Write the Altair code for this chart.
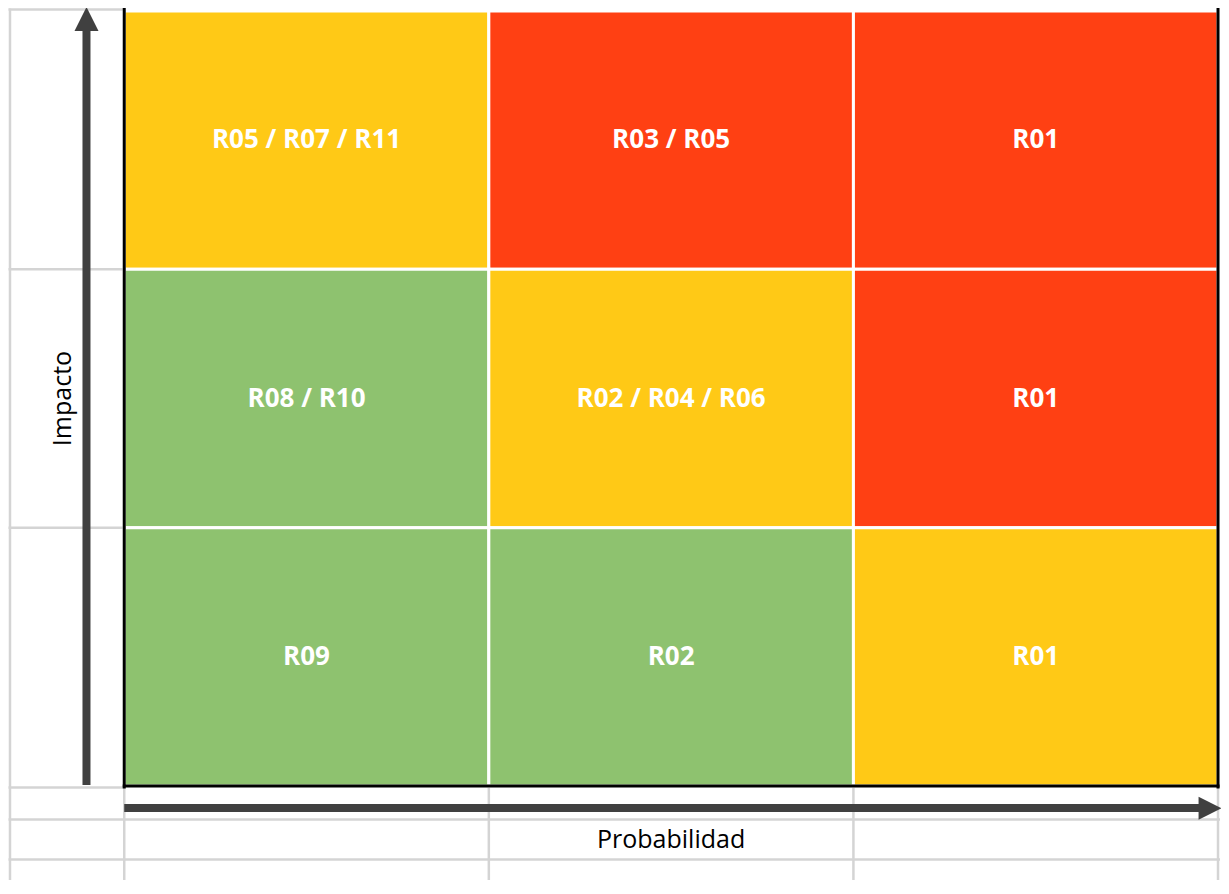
import altair as alt
import pandas as pd

# ---- data ----
probabilidad = [1, 2, 3, 1, 2, 3, 1, 2, 3]
impacto = [3, 3, 3, 2, 2, 2, 1, 1, 1]
riesgos = ["R05 / R07 / R11", "R03 / R05", "R01",
           "R08 / R10", "R02 / R04 / R06", "R01",
           "R09", "R02", "R01"]
nivel = ["Medio", "Alto", "Alto",
         "Bajo", "Medio", "Alto",
         "Bajo", "Bajo", "Medio"]
niveles = ["Bajo", "Medio", "Alto"]
colores = ["#8EC26F", "#FFC916", "#FF4013"]

titulo_x = "Probabilidad"
titulo_y = "Impacto"

# ---- layout (reference page pixels -> matrix units) ----
W, H = 1213, 872
REF_RIGHT = 1229           # right edge of the reference content
SX = W / (REF_RIGHT - 8)   # horizontal squeeze so everything fits
MX0, MX3 = 125, 1226       # matrix left/right on reference page
MY3, MY0 = 11, 786         # matrix top/bottom on reference page
ux = (MX3 - MX0) / 3
uy = (MY0 - MY3) / 3


def gx(px):
    return (px - MX0) / ux


def gy(py):
    return (MY0 - py) / uy


x_scale = alt.Scale(domain=[gx(8), gx(REF_RIGHT)], nice=False, zero=False)
y_scale = alt.Scale(domain=[gy(8 + H), gy(8)], nice=False, zero=False)

cells = pd.DataFrame({
    "prob": probabilidad, "imp": impacto, "riesgo": riesgos, "nivel": nivel,
})
cells["x"] = cells["prob"] - 1
cells["x2"] = cells["prob"]
cells["y"] = cells["imp"] - 1
cells["y2"] = cells["imp"]
cells["cx"] = cells["prob"] - 0.5
cells["cy"] = cells["imp"] - 0.5

bottom_px = 8 + H
gray_segments = [
    (gx(10), gx(10), gy(8.5), gy(bottom_px)),
    (gx(8.5), 0, gy(9.5), gy(9.5)),
    (gx(8.5), 0, 2, 2),
    (gx(8.5), 0, 1, 1),
    (gx(8.5), 0, gy(787.5), gy(787.5)),
    (gx(8.5), gx(1228), gy(819.5), gy(819.5)),
    (gx(8.5), gx(1228), gy(859.5), gy(859.5)),
    (0, 0, 0, gy(bottom_px)),
    (1, 1, 0, gy(bottom_px)),
    (2, 2, 0, gy(bottom_px)),
    (3, 3, 0, gy(bottom_px)),
]
gray_df = pd.DataFrame(gray_segments, columns=["x", "x2", "y", "y2"])

black_df = pd.DataFrame([
    (0, 0, gy(7.5), gy(788.5)),
    (3, 3, gy(7.5), gy(788.5)),
    (gx(123.5), gx(1227.5), 0, 0),
], columns=["x", "x2", "y", "y2"])

shaft_df = pd.DataFrame([
    (gx(87), gx(87), gy(785), gy(26)),
    (0, gx(1210), gy(808), gy(808)),
], columns=["x", "x2", "y", "y2"])

head_up = pd.DataFrame({"x": [gx(87)], "y": [gy(19)]})
head_right = pd.DataFrame({"x": [gx(1218)], "y": [gy(808.3)]})

titles = pd.DataFrame({
    "x": [1.5, gx(63)], "y": [gy(840), 1.5],
    "t": [titulo_x, titulo_y], "a": [0, 270],
})


def seg_enc(base):
    return base.encode(
        x=alt.X("x:Q", scale=x_scale, axis=None),
        x2="x2:Q",
        y=alt.Y("y:Q", scale=y_scale, axis=None),
        y2="y2:Q",
    )


gray = seg_enc(alt.Chart(gray_df).mark_rule(color="#D4D4D4", strokeWidth=2.5))

rects = alt.Chart(cells).mark_rect(stroke="white", strokeWidth=3).encode(
    x=alt.X("x:Q", scale=x_scale, axis=None),
    x2="x2:Q",
    y=alt.Y("y:Q", scale=y_scale, axis=None),
    y2="y2:Q",
    color=alt.Color("nivel:N", scale=alt.Scale(domain=niveles, range=colores), legend=None),
)

labels = alt.Chart(cells).mark_text(
    color="white", font="Open Sans", fontWeight="bold", fontSize=26,
    align="center", baseline="middle",
).encode(
    x=alt.X("cx:Q", scale=x_scale, axis=None),
    y=alt.Y("cy:Q", scale=y_scale, axis=None),
    text="riesgo:N",
)

black = seg_enc(alt.Chart(black_df).mark_rule(color="#000000", strokeWidth=3))
shafts = seg_enc(alt.Chart(shaft_df).mark_rule(color="#404040", strokeWidth=8))

hu = alt.Chart(head_up).mark_point(
    shape="M0,-1L-1,1L1,1Z", filled=True, color="#404040", opacity=1, size=24 * 24, strokeWidth=0,
).encode(x=alt.X("x:Q", scale=x_scale, axis=None), y=alt.Y("y:Q", scale=y_scale, axis=None))

hr = alt.Chart(head_right).mark_point(
    shape="M1,0L-1,-1L-1,1Z", filled=True, color="#404040", opacity=1, size=23 * 23, strokeWidth=0,
).encode(x=alt.X("x:Q", scale=x_scale, axis=None), y=alt.Y("y:Q", scale=y_scale, axis=None))

title_x_layer = alt.Chart(titles[titles["a"] == 0]).mark_text(
    font="Open Sans", fontSize=25, color="#000000", align="center", baseline="middle",
).encode(x=alt.X("x:Q", scale=x_scale, axis=None), y=alt.Y("y:Q", scale=y_scale, axis=None), text="t:N")

title_y_layer = alt.Chart(titles[titles["a"] == 270]).mark_text(
    font="Open Sans", fontSize=25, color="#000000", align="center", baseline="middle", angle=270,
).encode(x=alt.X("x:Q", scale=x_scale, axis=None), y=alt.Y("y:Q", scale=y_scale, axis=None), text="t:N")

chart = alt.layer(
    gray, rects, labels, black, shafts, hu, hr, title_x_layer, title_y_layer
).properties(
    width=W, height=H, padding=0, autosize=alt.AutoSizeParams(type="none"),
).configure_view(strokeWidth=0)

chart.save("out.html", embed_options={"renderer": "svg", "actions": False})
